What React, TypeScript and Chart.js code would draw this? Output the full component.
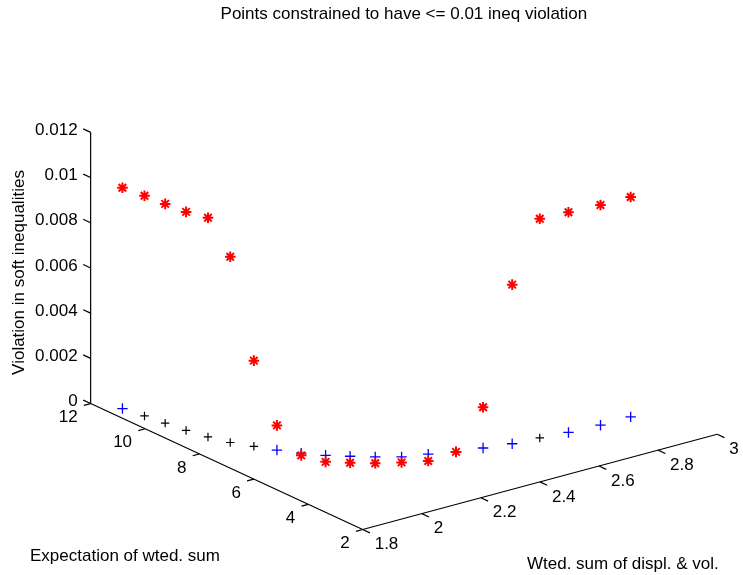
import React, { useEffect, useRef } from "react";
import { Chart, registerables } from "chart.js";

Chart.register(...registerables);

// ---- data ----
const wtedSum = [1.845, 1.858, 1.869, 1.88, 1.897, 1.919, 1.952, 1.984, 2.022, 2.064, 2.112, 2.163, 2.219, 2.289, 2.359, 2.435, 2.517, 2.603, 2.69, 2.792, 2.895];
const expectation = [11.32, 10.65, 10.01, 9.36, 8.74, 8.16, 7.65, 7.15, 6.67, 6.23, 5.85, 5.48, 5.12, 4.9, 4.64, 4.47, 4.29, 4.21, 4.1, 4.03, 4.04];
const violation = [0.00977, 0.00974, 0.0097, 0.00967, 0.0097, 0.00822, 0.00379, 0.00109, -0.0001, -0.00029, -0.00029, -0.00028, -0.00024, -0.0003, 0.0, 0.0018, 0.00704, 0.0097, 0.00974, 0.00974, 0.00973];
// 1 = point of the second kind (drawn black), 0 = first kind (drawn blue)
const pointKind = [0, 1, 1, 1, 1, 1, 1, 0, 0, 0, 0, 0, 0, 0, 0, 0, 0, 1, 0, 0, 0];

const xTicks = [1.8, 2, 2.2, 2.4, 2.6, 2.8, 3];
const xTickLabels = ["1.8", "2", "2.2", "2.4", "2.6", "2.8", "3"];
const yTicks = [2, 4, 6, 8, 10, 12];
const yTickLabels = ["2", "4", "6", "8", "10", "12"];
const zTicks = [0, 0.002, 0.004, 0.006, 0.008, 0.01, 0.012];
const zTickLabels = ["0", "0.002", "0.004", "0.006", "0.008", "0.01", "0.012"];

const titleText = "Points constrained to have <= 0.01 ineq violation";
const xLabelText = "Wted. sum of displ. & vol.";
const yLabelText = "Expectation of wted. sum";
const zLabelText = "Violation in soft inequalities";

const xLim = [1.8, 3];
const yLim = [2, 12];
const zLim = [0, 0.012];

// ---- view geometry (orthographic projection of the plot box) ----
const W = 743;
const H = 575;
const VIEW = {
  origin: [362.5, 535.8],
  ex: [361.6, -97.7],
  ey: [-277.5, -129.2],
  ez: [0, -278.3],
};
const FONT = '17px "Liberation Sans", Arial, Helvetica, sans-serif';

function project(x: number, y: number, z: number) {
  const u = (x - xLim[0]) / (xLim[1] - xLim[0]);
  const v = (y - yLim[0]) / (yLim[1] - yLim[0]);
  const w = (z - zLim[0]) / (zLim[1] - zLim[0]);
  return {
    x: VIEW.origin[0] + u * VIEW.ex[0] + v * VIEW.ey[0] + w * VIEW.ez[0],
    y: VIEW.origin[1] + u * VIEW.ex[1] + v * VIEW.ey[1] + w * VIEW.ez[1],
  };
}

function unit(v: number[]) {
  const l = Math.hypot(v[0], v[1]);
  return [v[0] / l, v[1] / l];
}

const axes3d = {
  id: "axes3d",
  beforeDatasetsDraw(chart: any) {
    const ctx = chart.ctx as CanvasRenderingContext2D;
    const sx = chart.scales.x;
    const sy = chart.scales.y;
    const px = (p: { x: number; y: number }) => [sx.getPixelForValue(p.x), sy.getPixelForValue(p.y)];
    const line = (a: number[], b: number[]) => {
      ctx.beginPath();
      ctx.moveTo(a[0], a[1]);
      ctx.lineTo(b[0], b[1]);
      ctx.stroke();
    };
    ctx.save();
    ctx.strokeStyle = "#000";
    ctx.lineWidth = 1.2;
    ctx.fillStyle = "#000";
    ctx.font = FONT;

    const dY = unit(VIEW.ey);
    const dX = unit(VIEW.ex);

    // z axis at (xmin, ymax)
    line(px(project(xLim[0], yLim[1], zLim[0])), px(project(xLim[0], yLim[1], zLim[1])));
    ctx.textAlign = "right";
    ctx.textBaseline = "middle";
    zTicks.forEach((t, i) => {
      const a = px(project(xLim[0], yLim[1], t));
      line(a, [a[0] + dY[0] * 8.2, a[1] + dY[1] * 8.2]);
      ctx.fillText(zTickLabels[i], a[0] - 13, a[1] - 2);
    });

    // y axis (expectation) at (xmin, zmin)
    line(px(project(xLim[0], yLim[0], zLim[0])), px(project(xLim[0], yLim[1], zLim[0])));
    ctx.textAlign = "right";
    yTicks.forEach((t, i) => {
      const a = px(project(xLim[0], t, zLim[0]));
      line(a, [a[0] - dX[0] * 7, a[1] - dX[1] * 7]);
      ctx.fillText(yTickLabels[i], a[0] - 13, a[1] + 14);
    });

    // x axis (wted sum) at (ymin, zmin)
    line(px(project(xLim[0], yLim[0], zLim[0])), px(project(xLim[1], yLim[0], zLim[0])));
    ctx.textAlign = "left";
    xTicks.forEach((t, i) => {
      const a = px(project(t, yLim[0], zLim[0]));
      line(a, [a[0] - dY[0] * 8, a[1] - dY[1] * 8]);
      ctx.fillText(xTickLabels[i], a[0] + 12, a[1] + 15);
    });

    // title, centred over the plot box
    const left = px(project(xLim[0], yLim[1], zLim[0]));
    const right = px(project(xLim[1], yLim[0], zLim[0]));
    ctx.textAlign = "center";
    ctx.textBaseline = "alphabetic";
    ctx.fillText(titleText, (left[0] + right[0]) / 2, 18.5);

    // axis labels
    ctx.textAlign = "left";
    ctx.fillText(yLabelText, 30, 561);
    ctx.fillText(xLabelText, 527, 569);

    ctx.save();
    ctx.translate(19, 272.5);
    ctx.rotate(-Math.PI / 2);
    ctx.textAlign = "center";
    ctx.textBaseline = "middle";
    ctx.fillText(zLabelText, 0, 0);
    ctx.restore();

    ctx.restore();
  },
};

export default function App() {
  const ref = useRef<HTMLCanvasElement | null>(null);
  useEffect(() => {
    if (!ref.current) return;
    const idx = wtedSum.map((_, i) => i);
    const stars = idx.map((i) => project(wtedSum[i], expectation[i], violation[i]));
    const floorPts = (kind: number) =>
      idx.filter((i) => pointKind[i] === kind).map((i) => project(wtedSum[i], expectation[i], zLim[0]));

    const chart = new Chart(ref.current, {
      type: "scatter",
      data: {
        datasets: [
          {
            label: "violation",
            data: stars,
            pointStyle: "star",
            pointRadius: 5.3,
            pointBorderColor: "#ff0000",
            pointBackgroundColor: "#ff0000",
            pointBorderWidth: 2,
            showLine: false,
          },
          {
            label: "kind 0",
            data: floorPts(0),
            pointStyle: "cross",
            pointRadius: 5.2,
            pointBorderColor: "#0000ff",
            pointBorderWidth: 1.3,
            showLine: false,
          },
          {
            label: "kind 1",
            data: floorPts(1),
            pointStyle: "cross",
            pointRadius: 4.2,
            pointBorderColor: "#000000",
            pointBorderWidth: 1.2,
            showLine: false,
          },
        ],
      },
      options: {
        animation: false,
        responsive: false,
        devicePixelRatio: 1,
        events: [],
        layout: { padding: 0 },
        plugins: { legend: { display: false }, title: { display: false }, tooltip: { enabled: false } },
        scales: {
          x: { type: "linear", min: 0, max: W, display: false },
          y: { type: "linear", min: 0, max: H, reverse: true, display: false },
        },
      },
      plugins: [axes3d],
    });
    return () => chart.destroy();
  }, []);

  return (
    <div style={{ position: "absolute", left: 0, top: 0, width: W, height: H, background: "#fff" }}>
      <canvas ref={ref} width={W} height={H} style={{ display: "block" }} />
    </div>
  );
}
